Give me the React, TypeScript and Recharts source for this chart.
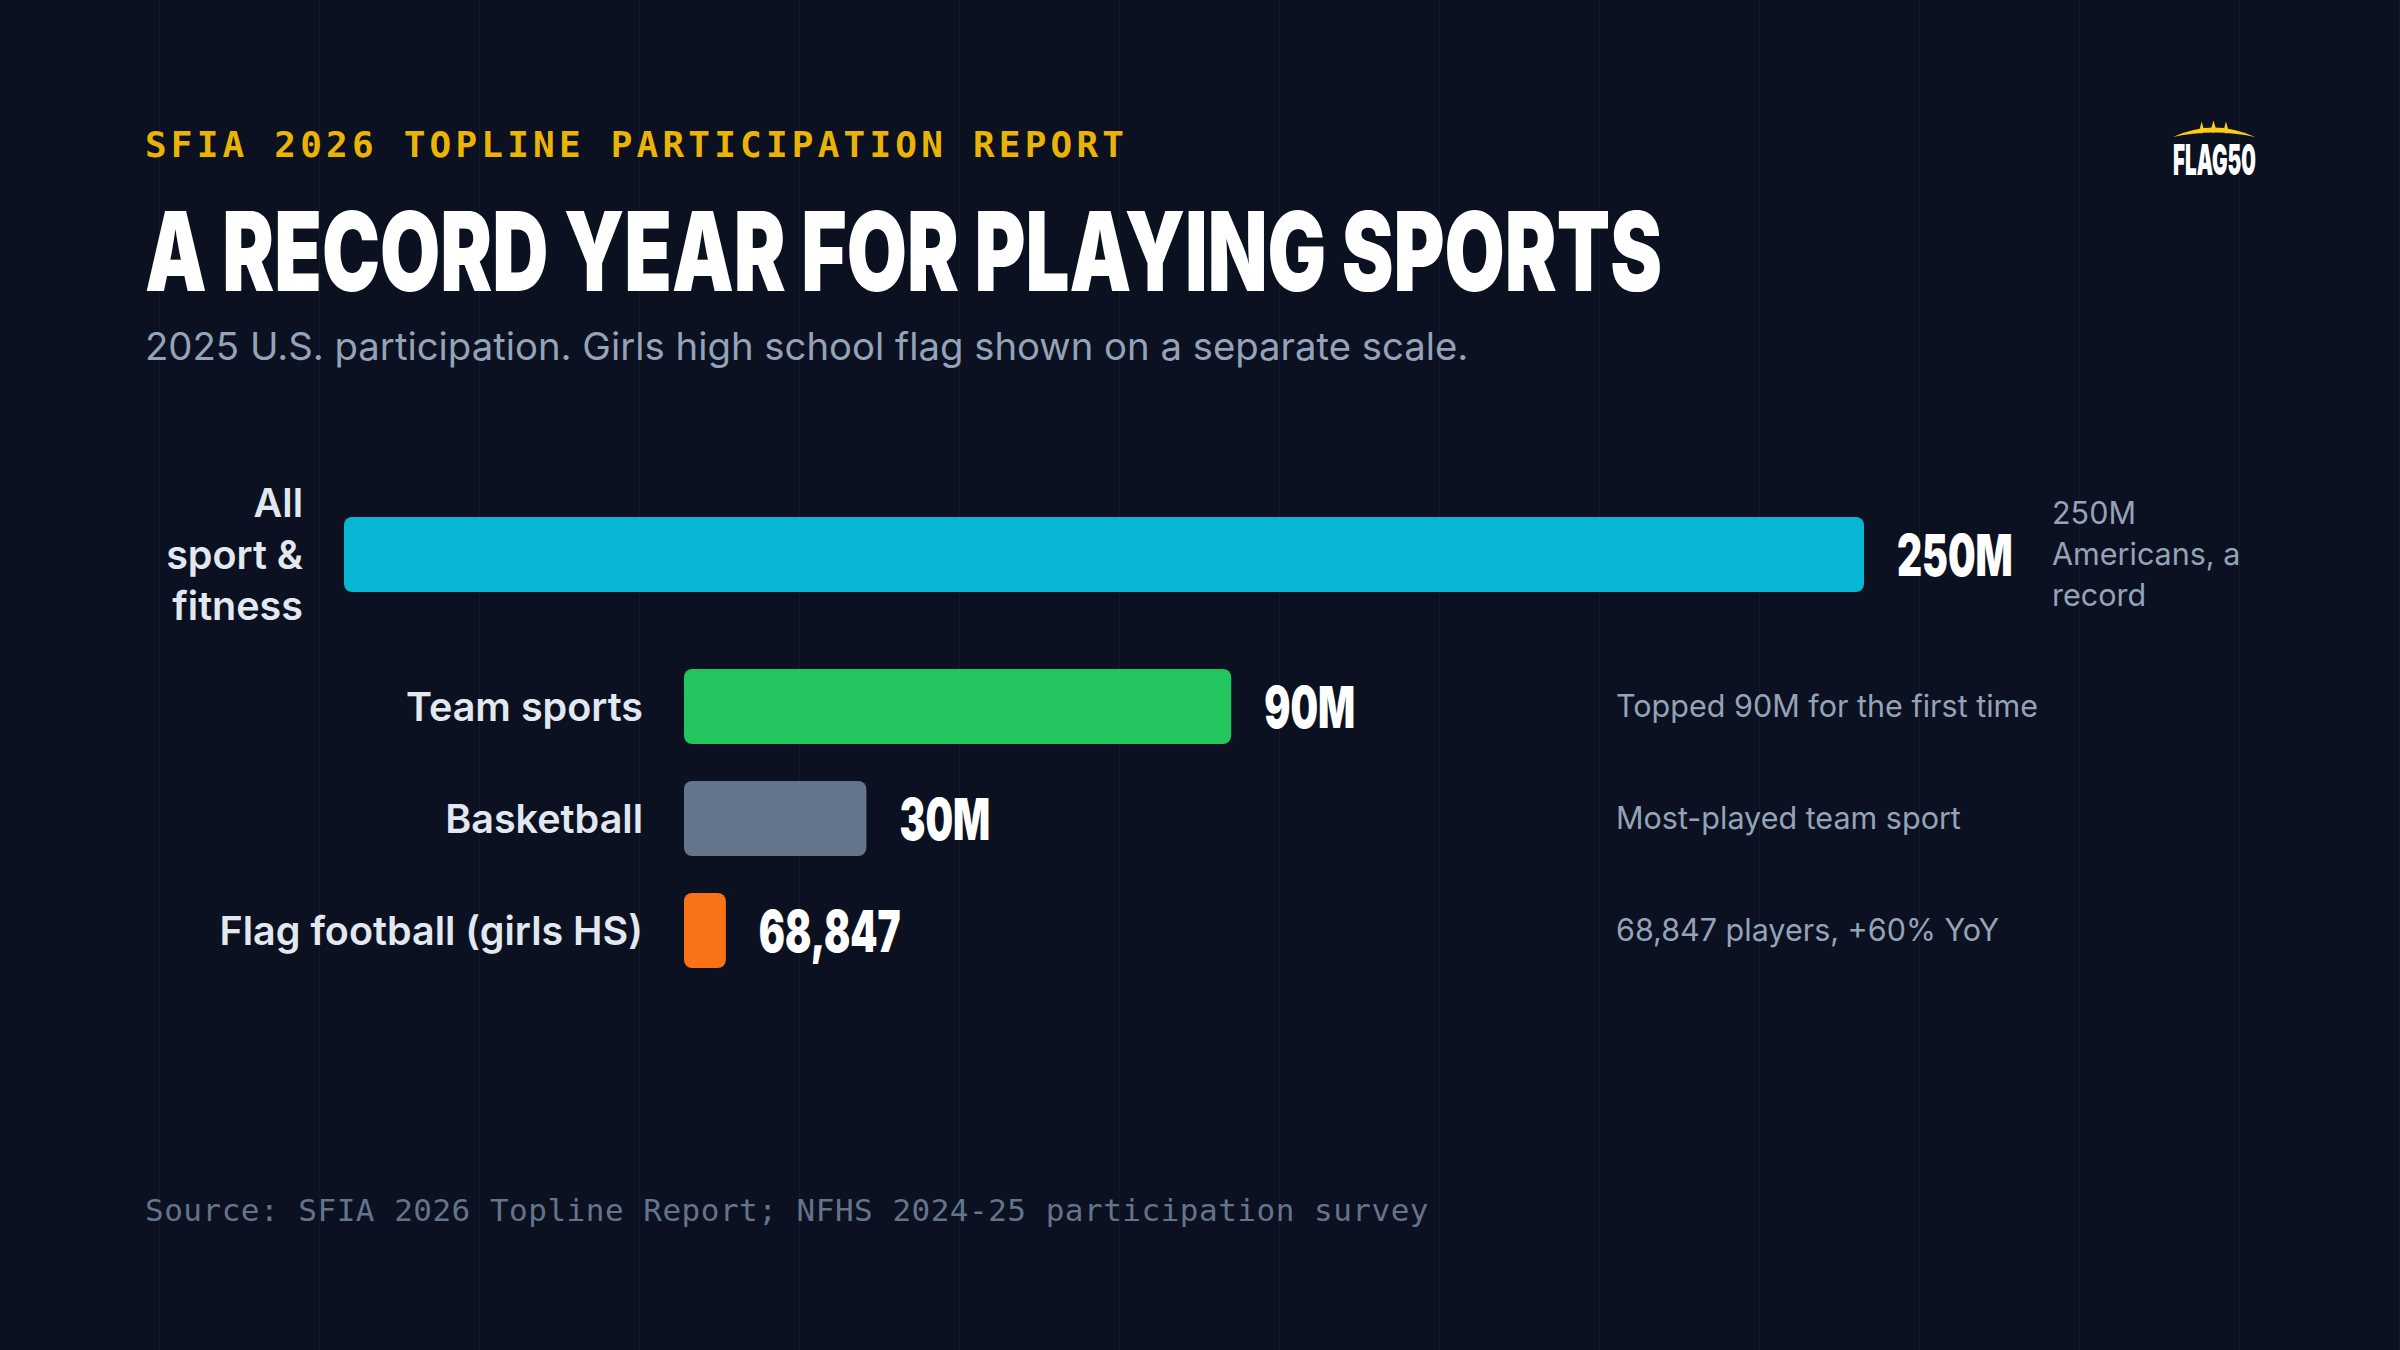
import React from "react";
import { BarChart, Bar, XAxis, YAxis, Cell, LabelList } from "recharts";

// participation, 2025
const categories = ["All sport & fitness", "Team sports", "Basketball", "Flag football (girls HS)"];
const participants = [250000000, 90000000, 30000000, 68847];
const valueLabels = ["250M", "90M", "30M", "68,847"];
const notes = [
  "250M Americans, a record",
  "Topped 90M for the first time",
  "Most-played team sport",
  "68,847 players, +60% YoY",
];
const barColors = ["#06b6d4", "#22c55e", "#64748b", "#f97316"];
const mainScaleMax = 250000000;
const flagScaleMax = 2500000; // separate scale for girls HS flag

const rows = categories.map((category, i) => ({
  category,
  value: participants[i],
  display: valueLabels[i],
  note: notes[i],
  color: barColors[i],
}));

const LABEL_FONT = "600 39.5px Inter";
const NOTE_FONT = "400 30.5px Inter";

const ctx = typeof document !== "undefined" ? document.createElement("canvas").getContext("2d") : null;

function wrapText(text: string, font: string, maxWidth: number) {
  if (!ctx) return [text];
  ctx.font = font;
  const words = text.split(" ");
  const lines: string[] = [];
  let cur = "";
  words.forEach((w) => {
    const t = cur ? cur + " " + w : w;
    if (cur && ctx.measureText(t).width > maxWidth) {
      lines.push(cur);
      cur = w;
    } else {
      cur = t;
    }
  });
  if (cur) lines.push(cur);
  return lines;
}

const CategoryTick = ({ y, payload, right, maxWidth }: any) => {
  const lines = wrapText(payload.value, LABEL_FONT, maxWidth);
  const lh = 51.5;
  return (
    <text textAnchor="end" fill="#e2e8f0" style={{ font: LABEL_FONT }}>
      {lines.map((l, i) => (
        <tspan key={i} x={right} y={y + 14.5 + (i - (lines.length - 1) / 2) * lh}>
          {l}
        </tspan>
      ))}
    </text>
  );
};

const ValueLabel = (p: any) => {
  const vb = p.viewBox || p;
  const x = (vb.x ?? p.x) + (vb.width ?? p.width) + 33;
  const y = (vb.y ?? p.y) + (vb.height ?? p.height) / 2 + 21;
  return (
    <text
      transform={`translate(${x},${y}) scale(0.67,1)`}
      fill="#ffffff"
      style={{ fontFamily: "Inter", fontWeight: 900, fontSize: 58 }}
    >
      {p.value}
    </text>
  );
};

const NoteLabel = (p: any) => {
  const vb = p.viewBox || p;
  const cy = (vb.y ?? p.y) + (vb.height ?? p.height) / 2;
  const lines = wrapText(String(p.value), NOTE_FONT, p.maxWidth);
  const lh = 41;
  return (
    <text fill="#94a3b8" style={{ font: NOTE_FONT }}>
      {lines.map((l, i) => (
        <tspan key={i} x={p.left} y={cy + 10.5 + (i - (lines.length - 1) / 2) * lh}>
          {l}
        </tspan>
      ))}
    </text>
  );
};

type RowChartProps = {
  data: typeof rows;
  top: number;
  height: number;
  axisWidth: number;
  labelWidth: number;
  max: number;
  noteLeft: number;
  noteWidth: number;
};

const ROW_LEFT = 145;
const CHART_W = 2110;
const TRACK_W = 1520;

const RowChart = ({ data, top, height, axisWidth, labelWidth, max, noteLeft, noteWidth }: RowChartProps) => (
  <div style={{ position: "absolute", left: ROW_LEFT, top, width: CHART_W, height }}>
    <BarChart
      width={CHART_W}
      height={height}
      data={data}
      layout="vertical"
      margin={{ top: 0, right: CHART_W - axisWidth - TRACK_W, bottom: 0, left: 0 }}
      style={{ overflow: "visible" }}
    >
      <XAxis type="number" domain={[0, max]} allowDataOverflow hide />
      <YAxis
        type="category"
        dataKey="category"
        width={axisWidth}
        axisLine={false}
        tickLine={false}
        interval={0}
        tick={(t: any) => <CategoryTick {...t} right={axisWidth - 41} maxWidth={labelWidth} />}
      />
      <Bar dataKey="value" barSize={75} radius={8} isAnimationActive={false}>
        {data.map((r, i) => (
          <Cell key={i} fill={r.color} />
        ))}
        <LabelList dataKey="display" content={(p: any) => <ValueLabel {...p} />} />
        <LabelList
          dataKey="note"
          content={(p: any) => <NoteLabel {...p} left={noteLeft - ROW_LEFT} maxWidth={noteWidth} />}
        />
      </Bar>
    </BarChart>
  </div>
);

export default function App() {
  return (
    <div
      style={{
        position: "absolute",
        left: 0,
        top: 0,
        width: 2400,
        height: 1350,
        overflow: "hidden",
        backgroundColor: "#0b1120",
        backgroundImage:
          "linear-gradient(to right, transparent 159px, rgba(255,255,255,0.035) 159px, rgba(255,255,255,0.035) 160px)",
        backgroundSize: "160px 100%",
      }}
    >
      <svg width={2400} height={1350} style={{ position: "absolute", left: 0, top: 0 }}>
        <text
          x={145}
          y={157}
          fill="#eab308"
          letterSpacing={4.2}
          style={{ fontFamily: "DejaVu Sans Mono", fontWeight: 700, fontSize: 36 }}
        >
          SFIA 2026 TOPLINE PARTICIPATION REPORT
        </text>
        <text
          x={145}
          y={291}
          fill="#ffffff"
          textLength={1517}
          lengthAdjust="spacingAndGlyphs"
          style={{ fontFamily: "Inter", fontWeight: 900, fontSize: 110 }}
        >
          A RECORD YEAR FOR PLAYING SPORTS
        </text>
        <text x={145} y={360} fill="#94a3b8" style={{ fontFamily: "Inter", fontWeight: 400, fontSize: 38.3 }}>
          2025 U.S. participation. Girls high school flag shown on a separate scale.
        </text>
        <text
          x={145}
          y={1221}
          fill="#64748b"
          letterSpacing={0.5}
          style={{ fontFamily: "DejaVu Sans Mono", fontWeight: 400, fontSize: 31 }}
        >
          Source: SFIA 2026 Topline Report; NFHS 2024-25 participation survey
        </text>
        {/* logo */}
        <g fill="#facc15">
          <path d="M2173 137 Q2214 118 2255 137 Q2214 128 2173 137 Z" />
          <path d="M2201.7 121.5 L2204 130 L2201.7 134 L2199.4 130 Z" />
          <path d="M2213.5 120.5 L2216 129 L2213.5 133.5 L2211 129 Z" />
          <path d="M2226 121.5 L2228.3 130 L2226 134 L2223.7 130 Z" />
        </g>
        <text
          x={2173}
          y={175}
          fill="#ffffff"
          textLength={83}
          lengthAdjust="spacingAndGlyphs"
          style={{ fontFamily: "Inter", fontWeight: 900, fontSize: 43 }}
        >
          FLAG50
        </text>
      </svg>

      <RowChart
        data={rows.slice(0, 1)}
        top={478}
        height={152}
        axisWidth={199}
        labelWidth={145}
        max={mainScaleMax}
        noteLeft={2052}
        noteWidth={203}
      />
      <RowChart
        data={rows.slice(1, 3)}
        top={650}
        height={224}
        axisWidth={539}
        labelWidth={498}
        max={mainScaleMax}
        noteLeft={1616}
        noteWidth={639}
      />
      <RowChart
        data={rows.slice(3)}
        top={874}
        height={112}
        axisWidth={539}
        labelWidth={498}
        max={flagScaleMax}
        noteLeft={1616}
        noteWidth={639}
      />
    </div>
  );
}
